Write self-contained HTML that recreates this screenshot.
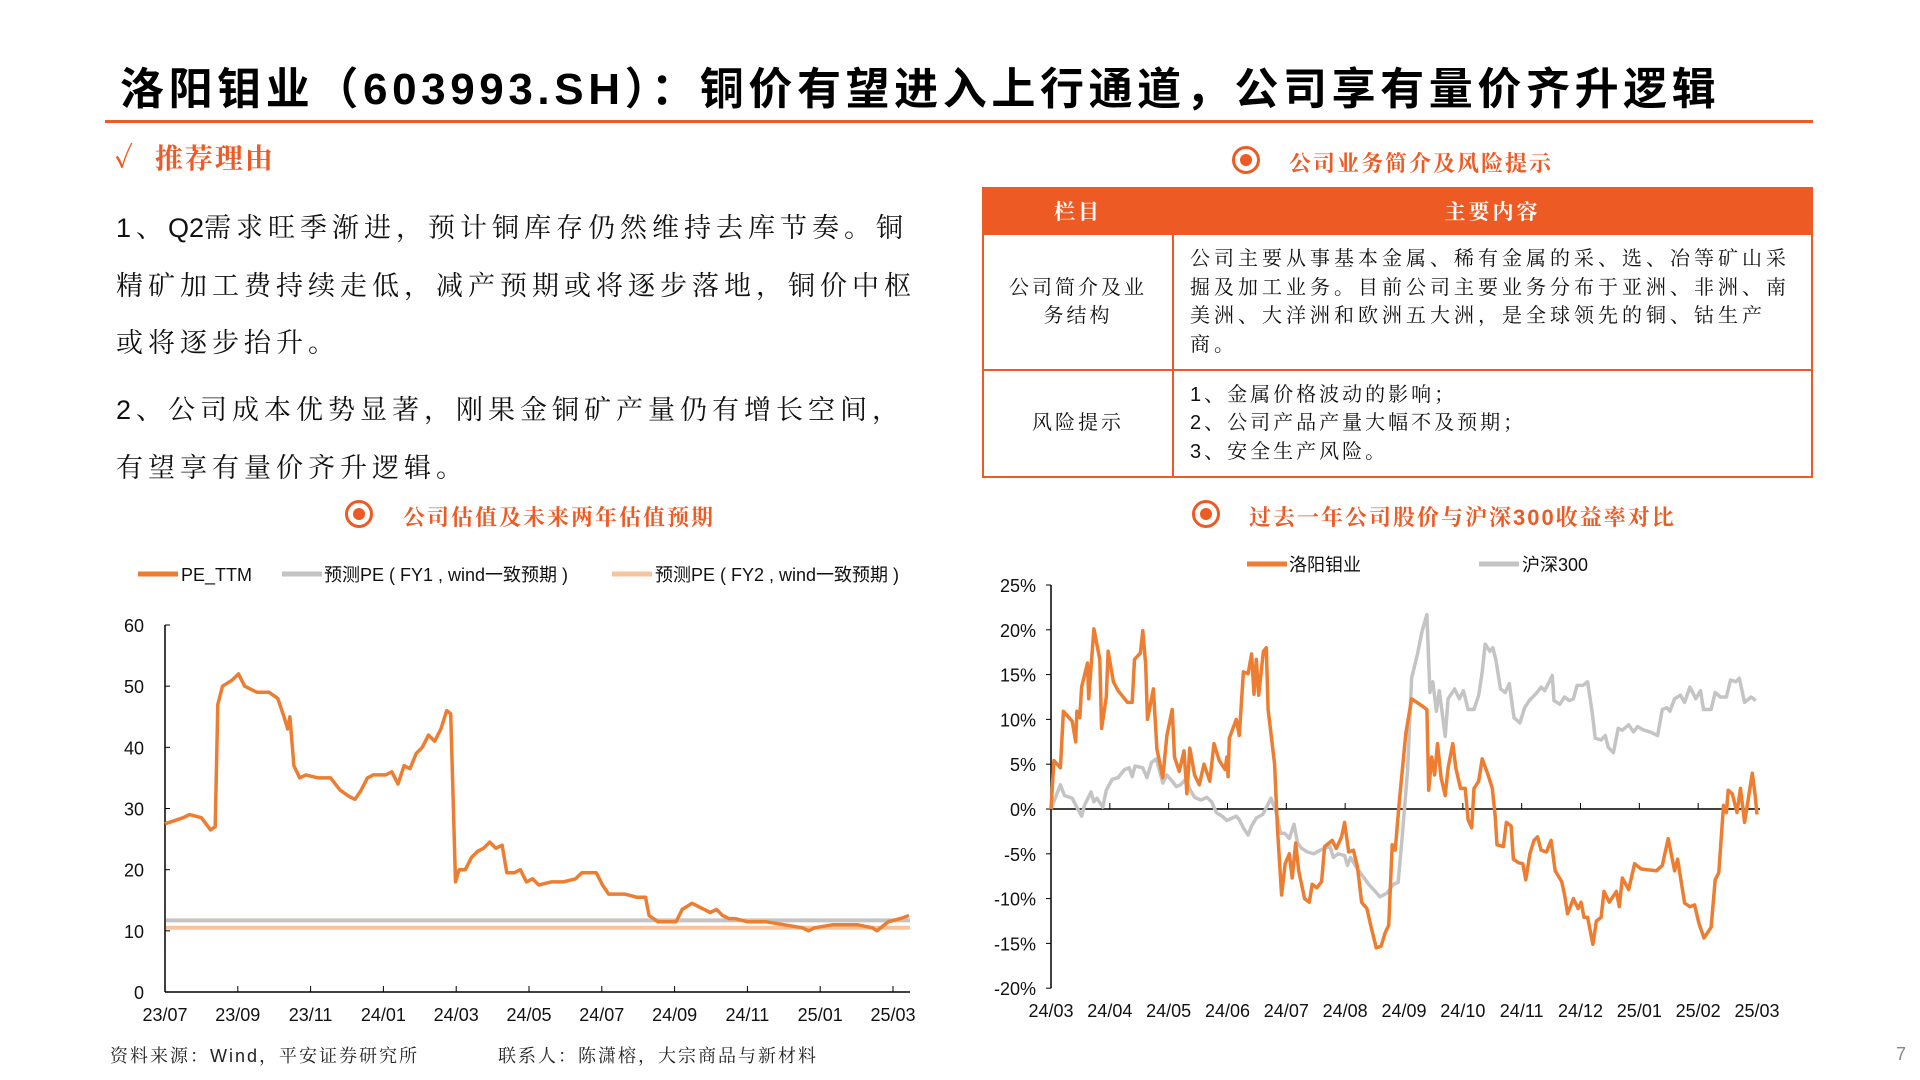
<!DOCTYPE html>
<html><head><meta charset="utf-8">
<style>
*{margin:0;padding:0;box-sizing:border-box}
body{width:1920px;height:1080px;background:#fff;position:relative;overflow:hidden;font-family:"Liberation Sans","Noto Sans CJK SC",sans-serif;color:#222}
.abs{position:absolute;white-space:nowrap}
.sec{color:#EE5A24;font-size:22px;font-weight:bold;font-family:"Liberation Sans","Noto Serif CJK SC",serif;letter-spacing:2px}
.dot{position:absolute;width:28px;height:28px;border:3px solid #EE5A24;border-radius:50%}
.dot::after{content:"";position:absolute;left:5px;top:5px;width:12px;height:12px;border-radius:50%;background:#EE5A24}
.para{font-size:27px;letter-spacing:5px;font-family:"Liberation Sans","Noto Serif CJK SC",serif;color:#111}
.hw{letter-spacing:0}
table{position:absolute;left:982px;top:187px;width:831px;border-collapse:collapse;font-family:"Liberation Sans","Noto Serif CJK SC",serif;font-size:20px;color:#111}
td,th{border:2px solid #EE5A24}
th{background:#EE5A24;color:#fff;height:46px;font-size:21px;letter-spacing:3px}
td{letter-spacing:3px;line-height:28.5px}
</style></head><body>
<div class="abs" style="left:120px;top:53px;font-size:44px;font-weight:bold;letter-spacing:4.6px;color:#000;font-family:'Liberation Sans','Noto Sans CJK SC',sans-serif">洛阳钼业（603993.SH）：铜价有望进入上行通道，公司享有量价齐升逻辑</div>
<div class="abs" style="left:105px;top:120px;width:1708px;height:3px;background:#EE5A24"></div>

<div class="abs sec" style="left:114px;top:137px;font-size:28px">✓&nbsp;&nbsp;推荐理由</div>
<div class="abs para" style="left:116px;top:200px;line-height:57.5px">1、<span class="hw">Q2</span>需求旺季渐进，预计铜库存仍然维持去库节奏。铜<br>精矿加工费持续走低，减产预期或将逐步落地，铜价中枢<br>或将逐步抬升。</div>
<div class="abs para" style="left:116px;top:382px;line-height:57.5px">2、公司成本优势显著，刚果金铜矿产量仍有增长空间，<br>有望享有量价齐升逻辑。</div>

<div class="dot" style="left:1232px;top:146px"></div>
<div class="abs sec" style="left:1289px;top:147px">公司业务简介及风险提示</div>
<table>
<tr><th style="width:190px">栏目</th><th>主要内容</th></tr>
<tr style="height:136px"><td style="text-align:center">公司简介及业<br>务结构</td><td style="padding:6px 8px 6px 16px;letter-spacing:4px;white-space:nowrap">公司主要从事基本金属、稀有金属的采、选、冶等矿山采<br>掘及加工业务。目前公司主要业务分布于亚洲、非洲、南<br>美洲、大洋洲和欧洲五大洲，是全球领先的铜、钴生产<br>商。</td></tr>
<tr style="height:107px"><td style="text-align:center">风险提示</td><td style="padding:6px 16px">1、金属价格波动的影响；<br>2、公司产品产量大幅不及预期；<br>3、安全生产风险。</td></tr>
</table>

<div class="dot" style="left:345px;top:500px"></div>
<div class="abs sec" style="left:403px;top:501px">公司估值及未来两年估值预期</div>
<div class="dot" style="left:1192px;top:500px"></div>
<div class="abs sec" style="left:1249px;top:501px">过去一年公司股价与沪深300收益率对比</div>

<svg id="chart" width="1920" height="1080" style="position:absolute;left:0;top:0"></svg>

<div class="abs" style="left:110px;top:1042px;font-size:18px;letter-spacing:2px;font-family:'Liberation Sans','Noto Serif CJK SC',serif">资料来源：Wind，平安证券研究所</div>
<div class="abs" style="left:498px;top:1042px;font-size:18px;letter-spacing:2px;font-family:'Liberation Sans','Noto Serif CJK SC',serif">联系人：陈潇榕，大宗商品与新材料</div>
<div class="abs" style="left:1896px;top:1044px;font-size:18px;color:#888">7</div>

<script>
// Left chart data (x in months since 2023/07)
const peMonths=[0,0.5,0.67,1.0,1.25,1.38,1.45,1.58,1.85,2.02,2.19,2.53,2.86,3.1,3.27,3.37,3.43,3.54,3.7,3.87,4.21,4.55,4.81,5.05,5.22,5.39,5.56,5.72,6.06,6.23,6.4,6.57,6.73,6.9,7.07,7.24,7.41,7.58,7.74,7.85,7.98,8.08,8.25,8.42,8.59,8.75,8.92,9.09,9.26,9.39,9.6,9.76,9.93,10.1,10.27,10.61,10.94,11.28,11.45,11.62,11.85,12.02,12.19,12.39,12.63,12.96,13.2,13.3,13.54,13.8,14.04,14.21,14.48,14.81,14.98,15.15,15.32,15.49,15.66,15.99,16.5,17.0,17.51,17.68,17.85,18.35,19.02,19.43,19.56,19.87,20.2,20.44];
const peTTM=[27.5,28.5,29,28.5,26.5,27,47,50,51,52,50,49,49,48,45,43,45,37,35,35.5,35,35,33,32,31.5,33,35,35.5,35.5,36,34,37,36.5,39,40,42,41,43,46,45.5,18,20,20,22,23,23.5,24.5,23.5,24,19.5,19.5,20,18,18.5,17.5,18,18,18.5,19.5,19.5,19.5,17.5,16,16,16,15.5,15.5,12.5,11.5,11.5,11.5,13.5,14.5,13.5,13,13.5,12.5,12,12,11.5,11.5,11,10.5,10,10.5,11,11,10.5,10,11.5,12,12.5];
const peFY1=11.7;
const peFY2=10.5;
const leftXTicks=['23/07','23/09','23/11','24/01','24/03','24/05','24/07','24/09','24/11','25/01','25/03'];
const leftYTicks=[0,10,20,30,40,50,60];
// Right chart data (x in months since 2024/03, values in %)
const cmocMonths=[0,0.05,0.16,0.21,0.36,0.42,0.44,0.49,0.52,0.62,0.64,0.73,0.83,0.86,0.94,0.97,1.06,1.14,1.3,1.38,1.42,1.52,1.56,1.61,1.64,1.74,1.8,1.9,1.97,2.06,2.1,2.18,2.26,2.31,2.36,2.44,2.52,2.6,2.7,2.77,2.86,2.96,2.99,3.01,3.03,3.15,3.2,3.27,3.35,3.41,3.45,3.49,3.53,3.61,3.66,3.69,3.8,3.85,3.92,3.98,4.05,4.1,4.16,4.21,4.31,4.39,4.44,4.52,4.6,4.65,4.78,4.85,4.94,4.99,5.06,5.14,5.21,5.28,5.37,5.45,5.53,5.61,5.68,5.74,5.8,5.85,5.92,6.03,6.13,6.31,6.39,6.42,6.47,6.52,6.57,6.63,6.7,6.75,6.83,6.88,6.96,7.04,7.09,7.15,7.19,7.27,7.33,7.43,7.5,7.55,7.58,7.69,7.74,7.82,7.86,7.95,8.02,8.07,8.14,8.21,8.27,8.33,8.42,8.5,8.57,8.68,8.73,8.78,8.88,8.96,9.01,9.06,9.12,9.21,9.27,9.35,9.4,9.49,9.61,9.66,9.71,9.82,9.92,10.03,10.29,10.39,10.49,10.6,10.65,10.77,10.86,10.94,11.01,11.1,11.22,11.29,11.35,11.43,11.48,11.51,11.58,11.66,11.72,11.79,11.92,11.97,12.0];
const cmocReturn=[0,5.4,4.6,10.9,9.8,7.5,10.9,10.2,13.6,16.3,12.3,20.1,16.7,9.0,12.5,17.6,14.2,13.2,11.9,11.9,16.7,17.4,19.9,16.1,10.0,13.4,6.7,3.5,8.2,11.1,5.8,4.2,6.5,1.7,6.8,3.8,2.7,5.0,3.1,7.3,5.4,4.4,5.8,3.6,7.9,10.0,8.2,15.3,15.1,17.3,12.8,16.7,12.7,17.6,18.0,11.1,5.0,-2.3,-9.6,-6.1,-5.0,-7.7,-3.8,-6.9,-10.0,-10.4,-8.4,-8.8,-8.1,-4.2,-3.5,-4.4,-3.1,-1.5,-4.8,-4.6,-6.5,-10.4,-11.1,-13.4,-15.5,-15.3,-13.8,-13.0,-4.0,-4.6,0.8,8.4,12.3,11.5,11.1,2.1,5.8,3.8,7.3,3.5,1.5,4.6,7.3,4.6,2.3,2.3,-1.2,-2.1,2.3,3.1,5.6,3.8,2.3,-0.8,-4.0,-4.2,-1.5,-1.9,-5.6,-6.0,-6.1,-7.9,-5.0,-3.5,-3.1,-4.6,-4.8,-3.5,-6.9,-8.1,-9.6,-11.7,-10.0,-11.1,-10.4,-12.1,-12.1,-15.1,-12.5,-12.1,-9.2,-10.4,-9.2,-10.9,-7.7,-9.0,-6.1,-6.7,-6.9,-6.3,-3.3,-6.9,-5.6,-10.5,-10.9,-10.7,-12.7,-14.4,-13.2,-7.9,-7.1,0.4,-0.4,2.1,1.7,-0.4,2.3,-1.5,4.0,1.5,-0.6];
const hs300Months=[0,0.16,0.23,0.36,0.47,0.52,0.57,0.68,0.73,0.78,0.88,0.94,1.04,1.14,1.25,1.33,1.38,1.43,1.56,1.63,1.71,1.79,1.84,1.9,1.97,2.06,2.13,2.2,2.29,2.37,2.44,2.55,2.65,2.73,2.81,2.91,2.99,3.08,3.15,3.2,3.27,3.35,3.41,3.49,3.6,3.68,3.74,3.83,3.9,3.97,4.05,4.13,4.19,4.26,4.36,4.47,4.57,4.65,4.74,4.8,4.88,4.99,5.04,5.09,5.19,5.3,5.4,5.51,5.59,5.71,5.82,5.9,5.97,6.06,6.13,6.23,6.31,6.39,6.44,6.49,6.55,6.6,6.7,6.75,6.86,6.94,7.01,7.09,7.19,7.27,7.33,7.38,7.46,7.51,7.56,7.64,7.72,7.79,7.87,7.97,8.05,8.13,8.26,8.33,8.39,8.47,8.52,8.55,8.65,8.73,8.81,8.88,8.94,9.04,9.12,9.2,9.25,9.35,9.42,9.47,9.56,9.64,9.71,9.82,9.9,9.97,10.08,10.18,10.31,10.39,10.47,10.52,10.6,10.7,10.77,10.86,10.96,11.04,11.09,11.22,11.29,11.38,11.48,11.55,11.64,11.7,11.79,11.9,11.98];
const hs300Return=[0,2.7,1.5,1.2,-0.2,-0.8,0.4,1.9,0.8,1.2,0.2,2.1,3.3,3.5,4.4,4.6,3.6,4.8,4.6,3.5,5.2,5.6,4.4,2.9,3.8,3.1,2.5,2.7,3.3,2.1,1.3,1.0,1.3,0.8,-0.4,-0.8,-1.3,-1.0,-0.8,-1.2,-2.1,-2.9,-1.9,-1.0,-0.6,0.4,1.2,-0.4,-2.7,-2.7,-3.3,-1.7,-3.8,-4.4,-4.8,-5.0,-4.6,-4.4,-4.2,-5.4,-5.0,-5.2,-6.3,-5.4,-6.5,-7.5,-8.4,-9.2,-9.8,-9.4,-8.4,-8.2,-3.1,4.2,14.6,17.3,19.9,21.7,13.0,14.2,10.9,13.2,8.1,12.3,13.4,12.3,13.2,11.1,11.1,12.7,15.3,18.4,17.6,18.0,16.7,13.4,13.0,14.0,10.2,9.6,11.3,12.1,13.0,13.6,13.2,14.2,14.9,12.1,11.7,12.5,12.1,12.3,13.8,13.8,14.2,10.7,7.9,7.7,8.2,6.9,6.3,9.0,8.8,9.4,8.6,9.2,8.8,8.6,8.2,11.1,11.3,10.9,12.3,12.7,11.9,13.6,12.3,13.2,11.1,11.1,13.0,12.5,12.5,14.4,14.2,14.6,11.9,12.5,12.1];
const rightXTicks=['24/03','24/04','24/05','24/06','24/07','24/08','24/09','24/10','24/11','24/12','25/01','25/02','25/03'];
const rightYTicks=[25,20,15,10,5,0,-5,-10,-15,-20];

const NS='http://www.w3.org/2000/svg';
const svg=document.getElementById('chart');
function mk(tag,attrs,parent){const e=document.createElementNS(NS,tag);for(const k in attrs)e.setAttribute(k,attrs[k]);(parent||svg).appendChild(e);return e;}
const FONT='"Liberation Sans","Noto Sans CJK SC",sans-serif';

// ---- Left chart
const lx=m=>165+m*(893-165)/20;
const ly=v=>992-v*(992-625)/60;
const gL=mk('g',{});


let a=mk('line',{x1:165,y1:ly(60),x2:165,y2:ly(0),stroke:'#000','stroke-width':1.5},gL);

a=mk('line',{x1:165,y1:ly(0),x2:910,y2:ly(0),stroke:'#000','stroke-width':1.5},gL);

leftYTicks.forEach(v=>{
  mk('line',{x1:165,y1:ly(v),x2:170,y2:ly(v),stroke:'#000','stroke-width':1},gL);
  const t=mk('text',{x:144,y:ly(v)+7,'text-anchor':'end','font-size':18,'font-family':FONT,fill:'#111'},gL);
  t.textContent=v;
  
});
leftXTicks.forEach((s,i)=>{
  const x=lx(i*2);
  mk('line',{x1:x,y1:ly(0),x2:x,y2:ly(0)-6,stroke:'#000','stroke-width':1},gL);
  const t=mk('text',{x:x,y:1021,'text-anchor':'middle','font-size':18,'font-family':FONT,fill:'#111'},gL);
  t.textContent=s;
  
});
let l=mk('line',{x1:166,y1:ly(peFY2),x2:910,y2:ly(peFY2),stroke:'#F8C49E','stroke-width':4},gL);

l=mk('line',{x1:166,y1:ly(peFY1),x2:910,y2:ly(peFY1),stroke:'#C4C4C4','stroke-width':4},gL);

let p=mk('polyline',{points:peMonths.map((m,i)=>lx(m).toFixed(1)+','+ly(peTTM[i]).toFixed(1)).join(' '),fill:'none',stroke:'#ED7D31','stroke-width':3.5,'stroke-linejoin':'round'},gL);

[['PE_TTM','#ED7D31',138,181],['预测PE ( FY1 , wind一致预期 )','#C4C4C4',282,324],['预测PE ( FY2 , wind一致预期 )','#F8C49E',612,655]].forEach(d=>{
  const g=mk('g',{},gL);
  
  mk('line',{x1:d[2],y1:574,x2:d[2]+40,y2:574,stroke:d[1],'stroke-width':5},g);
  const t=mk('text',{x:d[3],y:581,'font-size':18,'font-family':FONT,fill:'#111'},g);t.textContent=d[0];
});

// ---- Right chart
const rx=m=>1051+m*(1757-1051)/12;
const ry=v=>809-v*8.96;
const gR=mk('g',{});


a=mk('line',{x1:1051,y1:ry(25),x2:1051,y2:ry(-20),stroke:'#000','stroke-width':1.5},gR);

a=mk('line',{x1:1051,y1:ry(0),x2:1760,y2:ry(0),stroke:'#000','stroke-width':1.5},gR);

rightYTicks.forEach(v=>{
  mk('line',{x1:1046,y1:ry(v),x2:1051,y2:ry(v),stroke:'#000','stroke-width':1},gR);
  const t=mk('text',{x:1036,y:ry(v)+7,'text-anchor':'end','font-size':18,'font-family':FONT,fill:'#111'},gR);
  t.textContent=v+'%';
  
});
rightXTicks.forEach((s,i)=>{
  const x=rx(i);
  mk('line',{x1:x,y1:ry(0),x2:x,y2:ry(0)-6,stroke:'#000','stroke-width':1},gR);
  const t=mk('text',{x:x,y:1017,'text-anchor':'middle','font-size':18,'font-family':FONT,fill:'#111'},gR);
  t.textContent=s;
  
});
p=mk('polyline',{points:hs300Months.map((m,i)=>rx(m).toFixed(1)+','+ry(hs300Return[i]).toFixed(1)).join(' '),fill:'none',stroke:'#C4C4C4','stroke-width':3.5,'stroke-linejoin':'round'},gR);

p=mk('polyline',{points:cmocMonths.map((m,i)=>rx(m).toFixed(1)+','+ry(cmocReturn[i]).toFixed(1)).join(' '),fill:'none',stroke:'#ED7D31','stroke-width':3.5,'stroke-linejoin':'round'},gR);

[['洛阳钼业','#ED7D31',1247,1289],['沪深300','#C4C4C4',1479,1522]].forEach(d=>{
  const g=mk('g',{},gR);
  
  mk('line',{x1:d[2],y1:564,x2:d[2]+40,y2:564,stroke:d[1],'stroke-width':5},g);
  const t=mk('text',{x:d[3],y:571,'font-size':18,'font-family':FONT,fill:'#111'},g);t.textContent=d[0];
});
</script>
</body></html>
